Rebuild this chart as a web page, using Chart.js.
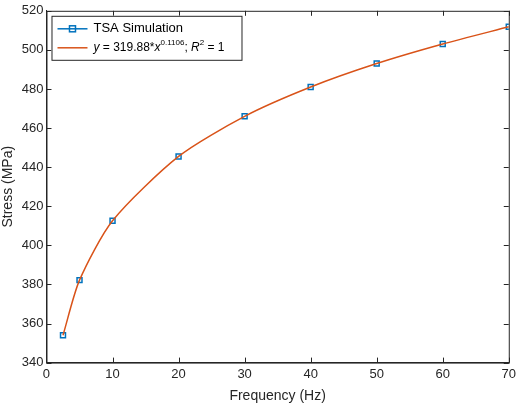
<!DOCTYPE html>
<html>
<head>
<meta charset="utf-8">
<script src="https://cdn.jsdelivr.net/npm/chart.js@4"></script>
<style>
  html, body { margin: 0; padding: 0; background: #fff; }
  #wrap { width: 520px; height: 407px; }
</style>
</head>
<body>
<div id="wrap"><canvas id="stressChart" width="520" height="407"></canvas></div>
<script>
// ─── DATA ───
const frequencies = [2.5, 5, 10, 20, 30, 40, 50, 60, 70];
const simStress = [354.0, 382.2, 412.6, 445.5, 466.0, 481.0, 493.0, 503.0, 511.8];
const fitStress = [354.0, 382.2, 412.6, 445.5, 466.0, 481.0, 493.0, 503.0, 511.8];
const xTicks = [0, 10, 20, 30, 40, 50, 60, 70];
const yTicks = [340, 360, 380, 400, 420, 440, 460, 480, 500, 520];

const BLUE = '#0072BD';
const ORANGE = '#D95319';
const FONT = '"Liberation Sans", Arial, sans-serif';

// ─── BOX, INNER TICKS + LEGEND PLUGIN (MATLAB look) ───
const matlabFrame = {
    id: 'matlabFrame',
    afterDraw(chart) {
        const { ctx, chartArea: a, scales } = chart;
        ctx.save();
        ctx.strokeStyle = '#262626';
        ctx.lineWidth = 1;
        ctx.strokeRect(a.left + 0.5, a.top + 0.5, a.right - a.left, a.bottom - a.top);

        // inward ticks
        ctx.beginPath();
        xTicks.forEach(v => {
            const px = Math.round(scales.x.getPixelForValue(v)) + 0.5;
            ctx.moveTo(px, a.bottom); ctx.lineTo(px, a.bottom - 5);
            ctx.moveTo(px, a.top); ctx.lineTo(px, a.top + 5);
        });
        yTicks.forEach(v => {
            const py = Math.round(scales.y.getPixelForValue(v)) + 0.5;
            ctx.moveTo(a.left, py); ctx.lineTo(a.left + 5, py);
            ctx.moveTo(a.right, py); ctx.lineTo(a.right - 5, py);
        });
        ctx.stroke();

        // legend box
        const lx = a.left + 5, ly = a.top + 5, lw = 190, lh = 44;
        ctx.fillStyle = '#fff';
        ctx.fillRect(lx, ly, lw, lh);
        ctx.strokeRect(lx + 0.5, ly + 0.5, lw, lh);

        // row 1: simulation
        let cy = ly + 13;
        ctx.strokeStyle = BLUE;
        ctx.lineWidth = 1.5;
        ctx.beginPath(); ctx.moveTo(lx + 6, cy); ctx.lineTo(lx + 36, cy); ctx.stroke();
        ctx.strokeRect(lx + 18, cy - 3, 6, 6);
        ctx.fillStyle = '#000';
        ctx.font = '13px ' + FONT;
        ctx.textBaseline = 'middle';
        ctx.fillText('TSA Simulation', lx + 42, cy);

        // row 2: fit
        cy = ly + 32;
        ctx.strokeStyle = ORANGE;
        ctx.beginPath(); ctx.moveTo(lx + 6, cy); ctx.lineTo(lx + 36, cy); ctx.stroke();
        let x = lx + 42;
        const part = (t, font, dy) => {
            ctx.font = font;
            ctx.fillText(t, x, cy + dy);
            x += ctx.measureText(t).width;
        };
        part('y', 'italic 12px ' + FONT, 0);
        part(' = 319.88*', '12px ' + FONT, 0);
        part('x', 'italic 12px ' + FONT, 0);
        part('0.1106', '8px ' + FONT, -5);
        part('; ', '12px ' + FONT, 0);
        part('R', 'italic 12px ' + FONT, 0);
        part('2', '8px ' + FONT, -5);
        part(' = 1', '12px ' + FONT, 0);
        ctx.restore();
    }
};

// ─── CHART ───
const ctx = document.getElementById('stressChart').getContext('2d');
new Chart(ctx, {
    type: 'line',
    data: {
        datasets: [
            {
                label: 'Fit',
                data: frequencies.map((f, i) => ({ x: f, y: fitStress[i] })),
                borderColor: ORANGE,
                borderWidth: 1.5,
                pointRadius: 0,
                tension: 0.25,
                fill: false
            },
            {
                label: 'TSA Simulation',
                data: frequencies.map((f, i) => ({ x: f, y: simStress[i] })),
                borderColor: BLUE,
                borderWidth: 1.5,
                showLine: false,
                pointStyle: 'rect',
                pointRadius: 3.5,
                pointBackgroundColor: 'rgba(0,0,0,0)',
                pointBorderColor: BLUE,
                pointBorderWidth: 1.5
            }
        ]
    },
    options: {
        responsive: false,
        animation: false,
        layout: { padding: { top: 0, right: 7, left: 0, bottom: 2 } },
        plugins: { legend: { display: false }, tooltip: { enabled: false } },
        scales: {
            x: {
                type: 'linear', min: 0, max: 70,
                afterBuildTicks: s => { s.ticks = xTicks.map(v => ({ value: v })); },
                grid: { display: false, drawTicks: false },
                border: { color: '#262626' },
                ticks: { color: '#262626', font: { family: FONT, size: 13 }, padding: 4 },
                title: { display: true, text: 'Frequency (Hz)', color: '#262626', font: { family: FONT, size: 14 }, padding: { top: 2, bottom: 0 } }
            },
            y: {
                type: 'linear', min: 340, max: 520,
                afterBuildTicks: s => { s.ticks = yTicks.map(v => ({ value: v })); },
                grid: { display: false, drawTicks: false },
                border: { color: '#262626' },
                ticks: { color: '#262626', font: { family: FONT, size: 13 }, padding: 3 },
                title: { display: true, text: 'Stress (MPa)', color: '#262626', font: { family: FONT, size: 14 }, padding: { top: 0, bottom: 2 } }
            }
        }
    },
    plugins: [matlabFrame]
});
</script>
</body>
</html>
